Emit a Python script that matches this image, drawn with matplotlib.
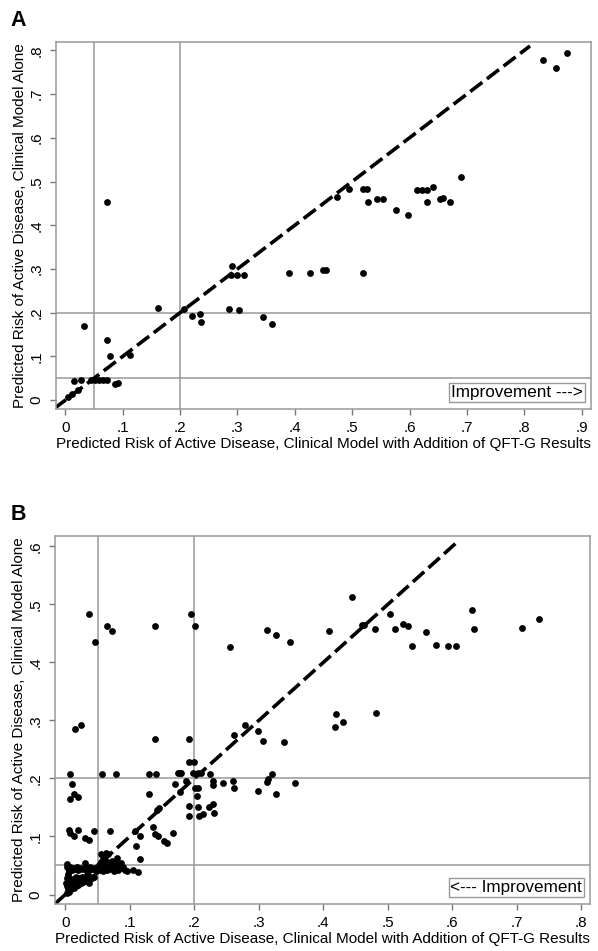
import numpy as np
import matplotlib.pyplot as plt

plt.rcParams['font.family'] = ['Liberation Sans', 'DejaVu Sans']

# Panel A: (QFT-G model, clinical model alone)
a_x = [0.833, 0.855, 0.875, 0.689, 0.494, 0.474, 0.519, 0.526, 0.527, 0.544, 0.553,
       0.576, 0.598, 0.613, 0.622, 0.630, 0.641, 0.631, 0.653, 0.659, 0.670,
       0.390, 0.426, 0.450, 0.455, 0.519, 0.072, 0.290, 0.289, 0.300, 0.312,
       0.161, 0.207, 0.285, 0.302, 0.221, 0.235, 0.236, 0.345, 0.361, 0.033,
       0.073, 0.078, 0.113, 0.015, 0.027, 0.011, 0.023, 0.052, 0.059, 0.066,
       0.072, 0.087, 0.092, 0.005, 0.045]
a_y = [0.778, 0.759, 0.793, 0.510, 0.482, 0.464, 0.482, 0.482, 0.454, 0.460, 0.460,
       0.434, 0.424, 0.481, 0.481, 0.481, 0.488, 0.454, 0.460, 0.462, 0.454,
       0.291, 0.291, 0.297, 0.297, 0.291, 0.453, 0.307, 0.286, 0.286, 0.286,
       0.211, 0.209, 0.209, 0.206, 0.192, 0.196, 0.179, 0.191, 0.175, 0.169,
       0.137, 0.101, 0.103, 0.043, 0.046, 0.015, 0.023, 0.046, 0.046, 0.046,
       0.046, 0.038, 0.040, 0.008, 0.046]

# Panel B
b_x = [0.037, 0.046, 0.064, 0.072, 0.139, 0.195, 0.201, 0.255, 0.312, 0.326, 0.348,
       0.444, 0.409, 0.460, 0.463, 0.480, 0.503, 0.511, 0.523, 0.531, 0.537,
       0.559, 0.574, 0.594, 0.606, 0.630, 0.633, 0.708, 0.734,
       0.419, 0.418, 0.431, 0.482, 0.279, 0.262, 0.298, 0.307, 0.339,
       0.192, 0.191, 0.200, 0.198, 0.205, 0.210, 0.224, 0.320, 0.315, 0.313,
       0.356, 0.299, 0.327, 0.260, 0.245, 0.262, 0.229, 0.229, 0.201, 0.204,
       0.222, 0.231, 0.191, 0.208, 0.213, 0.206, 0.187, 0.178, 0.178,
       0.008, 0.010, 0.008, 0.013, 0.019, 0.015, 0.025, 0.057, 0.078, 0.130,
       0.140, 0.139, 0.130, 0.146, 0.142, 0.175, 0.180, 0.170, 0.191, 0.206,
       0.229, 0.005, 0.007, 0.013, 0.019, 0.031, 0.037, 0.045, 0.069, 0.108,
       0.115, 0.110, 0.116, 0.105, 0.113, 0.136, 0.139, 0.144, 0.153, 0.157,
       0.167, 0.031, 0.063, 0.080,
       # dense band near y = .045
       0.003, 0.006, 0.008, 0.010, 0.012, 0.015, 0.018, 0.020, 0.023, 0.026,
       0.029, 0.032, 0.035, 0.038, 0.041, 0.044, 0.002, 0.005, 0.004,
       # dense lower cluster
       0.002, 0.004, 0.003, 0.006, 0.006, 0.008, 0.007, 0.009, 0.010, 0.011,
       0.012, 0.013, 0.014, 0.015, 0.016, 0.017, 0.018, 0.019, 0.020, 0.021,
       0.022, 0.024, 0.025, 0.026, 0.028, 0.029, 0.031, 0.032, 0.034, 0.035,
       0.037, 0.039, 0.041, 0.043, 0.045, 0.001, 0.002, 0.004, 0.033, 0.036,
       # blob right of .05
       0.048, 0.050, 0.052, 0.054, 0.055, 0.057, 0.058, 0.060, 0.061, 0.063,
       0.064, 0.065, 0.067, 0.068, 0.070, 0.071, 0.073, 0.074, 0.076, 0.077,
       0.079, 0.080, 0.082, 0.084, 0.086, 0.088, 0.090, 0.092, 0.058, 0.062,
       0.055, 0.066, 0.095]
b_y = [0.483, 0.435, 0.463, 0.455, 0.462, 0.483, 0.463, 0.426, 0.456, 0.447, 0.435,
       0.512, 0.455, 0.465, 0.465, 0.458, 0.483, 0.458, 0.466, 0.462, 0.428,
       0.453, 0.430, 0.428, 0.428, 0.490, 0.458, 0.459, 0.475,
       0.311, 0.289, 0.298, 0.313, 0.292, 0.275, 0.281, 0.265, 0.263,
       0.268, 0.229, 0.229, 0.209, 0.209, 0.209, 0.208, 0.208, 0.199, 0.194,
       0.192, 0.178, 0.173, 0.196, 0.193, 0.183, 0.196, 0.189, 0.183, 0.170,
       0.150, 0.140, 0.136, 0.136, 0.138, 0.184, 0.196, 0.209, 0.177,
       0.208, 0.191, 0.164, 0.173, 0.168, 0.285, 0.292, 0.208, 0.208, 0.208,
       0.208, 0.268, 0.173, 0.149, 0.145, 0.209, 0.210, 0.191, 0.153, 0.150,
       0.156, 0.112, 0.106, 0.101, 0.112, 0.097, 0.094, 0.110, 0.110, 0.110,
       0.101, 0.084, 0.062, 0.043, 0.039, 0.117, 0.105, 0.100, 0.093, 0.089,
       0.106, 0.055, 0.071, 0.063,
       0.047, 0.044, 0.048, 0.043, 0.046, 0.044, 0.047, 0.043, 0.045, 0.044,
       0.046, 0.043, 0.045, 0.047, 0.044, 0.046, 0.052, 0.040, 0.036,
       0.003, 0.008, 0.014, 0.005, 0.012, 0.018, 0.024, 0.010, 0.015, 0.021,
       0.027, 0.012, 0.018, 0.024, 0.030, 0.015, 0.021, 0.026, 0.017, 0.023,
       0.029, 0.019, 0.025, 0.031, 0.021, 0.027, 0.023, 0.029, 0.025, 0.031,
       0.027, 0.030, 0.028, 0.031, 0.030, 0.020, 0.028, 0.032, 0.034, 0.019,
       0.040, 0.046, 0.051, 0.043, 0.056, 0.048, 0.040, 0.053, 0.045, 0.058,
       0.050, 0.042, 0.055, 0.047, 0.052, 0.044, 0.058, 0.049, 0.041, 0.054,
       0.046, 0.051, 0.043, 0.048, 0.055, 0.045, 0.047, 0.042, 0.062, 0.066,
       0.070, 0.070, 0.040]

a_ticks = [0, .1, .2, .3, .4, .5, .6, .7, .8, .9]
a_yticks = [0, .1, .2, .3, .4, .5, .6, .7, .8]
b_ticks = [0, .1, .2, .3, .4, .5, .6, .7, .8]
b_yticks = [0, .1, .2, .3, .4, .5, .6]

xlab = "Predicted Risk of Active Disease, Clinical Model with Addition of QFT-G Results"
ylab = "Predicted Risk of Active Disease, Clinical Model Alone"

def lbl(v):
    return "0" if v == 0 else ("%.1f" % v)[1:]

gray = '#999999'
fig = plt.figure(figsize=(5.98, 9.51), dpi=100)

def panel(rect, xs, ys, xl, yl, xt, yt, diag_end, text, letter):
    ax = fig.add_axes(rect)
    ax.set_xlim(*xl)
    ax.set_ylim(*yl)
    # cut-off lines at 5% and 20%
    for v in (0.05, 0.2):
        ax.axvline(v, color=gray, lw=1.1, zorder=1)
        ax.axhline(v, color=gray, lw=1.1, zorder=1)
    # line of identity
    ax.plot([min(xl[0], yl[0]), diag_end], [min(xl[0], yl[0]), diag_end],
            color='black', lw=2.6, dashes=(4.2, 1.6), zorder=2)
    ax.scatter(xs, ys, s=24, color='black', zorder=3, linewidths=0)
    ax.set_xticks(xt)
    ax.set_xticklabels([lbl(v) for v in xt], fontsize=11)
    ax.set_yticks(yt)
    ax.set_yticklabels([lbl(v) for v in yt], fontsize=11, rotation=90, va='center')
    ax.tick_params(color='#777777', length=4.3, width=1, pad=4.5)
    for s in ax.spines.values():
        s.set_color(gray)
        s.set_linewidth(1.1)
    ax.set_xlabel(xlab, fontsize=11, labelpad=1)
    ax.set_ylabel(ylab, fontsize=11, labelpad=2)
    ax.text(0.985, 0.045, text, transform=ax.transAxes, ha='right', va='center',
            fontsize=12.3, bbox=dict(boxstyle='square,pad=0.1', fc='white', ec=gray, lw=1))
    fig.text(0.017, rect[1] + rect[3] + 0.012, letter, fontsize=15.5,
             fontweight='bold', va='bottom')
    return ax

panel([0.0936, 0.570, 0.8944, 0.3858], a_x, a_y, (-0.0162, 0.916), (-0.02, 0.819),
      a_ticks, a_yticks, 0.81, "Improvement --->", "A")
panel([0.092, 0.0494, 0.8946, 0.387], b_x, b_y, (-0.016, 0.8135), (-0.0164, 0.618),
      b_ticks, b_yticks, 0.609, "<--- Improvement", "B")

fig.savefig("out.png", dpi=100)
